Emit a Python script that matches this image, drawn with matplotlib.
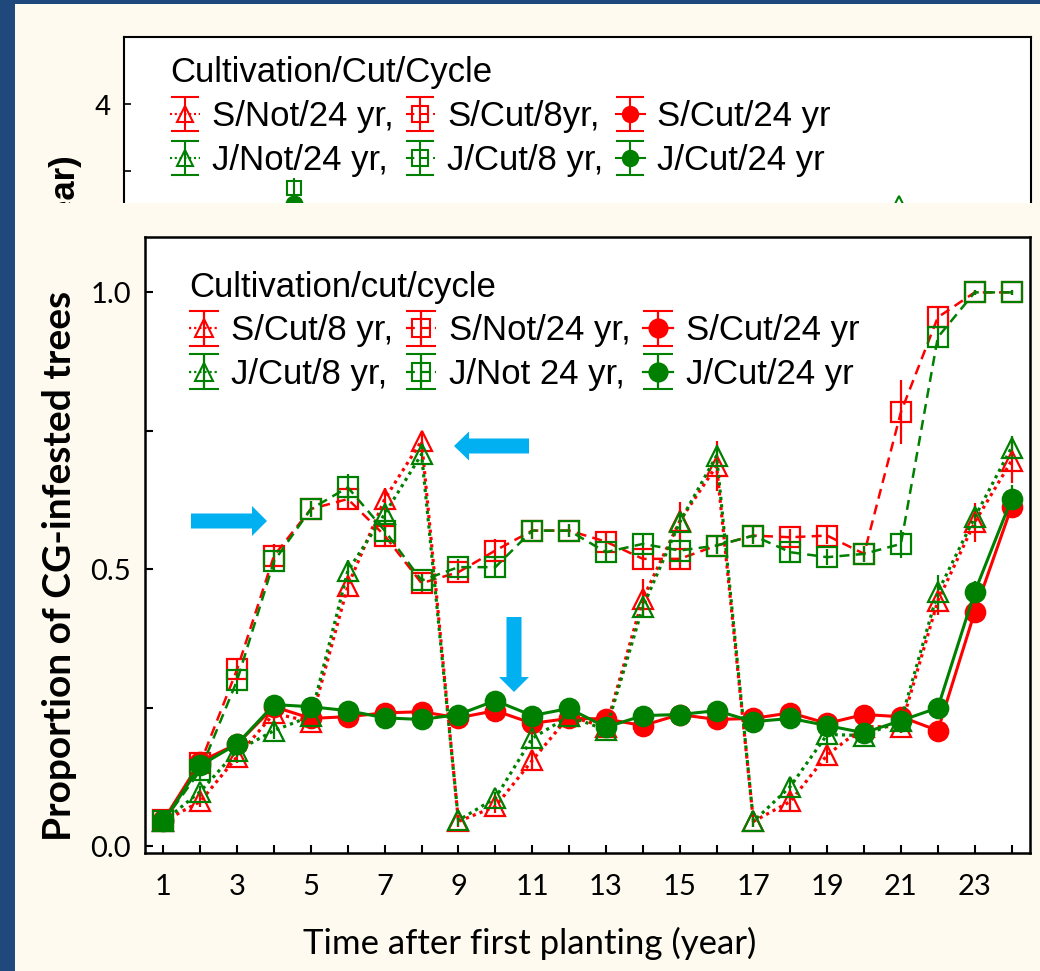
import numpy as np
import matplotlib.pyplot as plt
from matplotlib.patches import Rectangle, FancyArrow

W, H = 1040, 971

# ---- data ----
years = np.arange(1, 25)

s_cut8 = [0.045, 0.081, 0.162, 0.240, 0.225, 0.470, 0.627, 0.732, 0.045, 0.072, 0.155, 0.235,
          0.215, 0.447, 0.587, 0.687, 0.045, 0.081, 0.165, 0.216, 0.216, 0.443, 0.585, 0.696]
j_cut8 = [0.045, 0.099, 0.173, 0.209, 0.235, 0.497, 0.600, 0.708, 0.047, 0.087, 0.195, 0.235,
          0.210, 0.432, 0.585, 0.705, 0.045, 0.108, 0.202, 0.200, 0.227, 0.459, 0.594, 0.720]
s_not24 = [0.047, 0.150, 0.320, 0.525, 0.609, 0.627, 0.561, 0.475, 0.495, 0.534, 0.570, 0.570,
           0.550, 0.519, 0.519, 0.543, 0.561, 0.558, 0.561, 0.528, 0.784, 0.955, 1.000, 1.000]
j_not24 = [0.045, 0.137, 0.300, 0.515, 0.609, 0.648, 0.570, 0.480, 0.504, 0.504, 0.570, 0.570,
           0.531, 0.546, 0.534, 0.543, 0.561, 0.531, 0.522, 0.528, 0.546, 0.919, 1.000, 1.000]
s_cut24 = [0.047, 0.153, 0.185, 0.252, 0.231, 0.234, 0.241, 0.243, 0.232, 0.245, 0.222, 0.231,
           0.230, 0.218, 0.238, 0.229, 0.231, 0.241, 0.222, 0.238, 0.234, 0.209, 0.423, 0.613]
j_cut24 = [0.045, 0.146, 0.185, 0.256, 0.252, 0.245, 0.232, 0.229, 0.238, 0.263, 0.236, 0.249,
           0.215, 0.236, 0.238, 0.245, 0.225, 0.231, 0.218, 0.205, 0.227, 0.250, 0.459, 0.627]

s_cut8_err = [0.010, 0.010, 0.012, 0.015, 0.012, 0.020, 0.020, 0.015, 0.010, 0.012, 0.015, 0.012,
              0.010, 0.035, 0.035, 0.045, 0.010, 0.015, 0.015, 0.015, 0.012, 0.025, 0.035, 0.040]
j_cut8_err = [0.010, 0.010, 0.012, 0.015, 0.012, 0.020, 0.020, 0.015, 0.010, 0.012, 0.015, 0.012,
              0.010, 0.020, 0.020, 0.020, 0.010, 0.015, 0.015, 0.015, 0.012, 0.030, 0.020, 0.020]
s_not24_err = [0.010, 0.015, 0.020, 0.020, 0.015, 0.020, 0.020, 0.015, 0.015, 0.020, 0.015, 0.012,
               0.015, 0.020, 0.020, 0.015, 0.015, 0.015, 0.015, 0.015, 0.058, 0.020, 0.005, 0.005]
j_not24_err = [0.010, 0.015, 0.025, 0.020, 0.015, 0.025, 0.020, 0.015, 0.015, 0.020, 0.015, 0.012,
               0.015, 0.020, 0.020, 0.015, 0.015, 0.015, 0.015, 0.015, 0.025, 0.020, 0.005, 0.005]
s_cut24_err = [0.008, 0.010, 0.010, 0.010, 0.010, 0.010, 0.010, 0.010, 0.010, 0.010, 0.010, 0.010,
               0.010, 0.010, 0.010, 0.012, 0.010, 0.012, 0.010, 0.012, 0.010, 0.010, 0.020, 0.020]
j_cut24_err = [0.008, 0.010, 0.010, 0.010, 0.010, 0.010, 0.010, 0.010, 0.010, 0.012, 0.010, 0.010,
               0.010, 0.010, 0.010, 0.015, 0.010, 0.015, 0.010, 0.010, 0.010, 0.010, 0.020, 0.025]

main_labels = ['S/Cut/8 yr,', 'J/Cut/8 yr,', 'S/Not/24 yr,', 'J/Not 24 yr,', 'S/Cut/24 yr', 'J/Cut/24 yr']
ytick_vals = [0.0, 0.25, 0.5, 0.75, 1.0]
ytick_text = ['0.0', '', '0.5', '', '1.0']

# ---- what shows of the slide behind (mostly covered) ----
bg_labels = ['S/Not/24 yr,', 'J/Not/24 yr,', 'S/Cut/8yr,', 'J/Cut/8 yr,', 'S/Cut/24 yr', 'J/Cut/24 yr']
bg_jcut8_x, bg_jcut8, bg_jcut8_err = [5], [3.37], [0.08]
bg_jcut24_x, bg_jcut24 = [5], [3.25]
bg_jnot24_x, bg_jnot24 = [21], [3.25]

RED = '#FF0000'
GREEN = '#008000'
NAVY = '#1F497D'
CREAM = '#FEFAEF'
ARROW = '#00B0F0'
DASH = (0, (4, 2.5))
DOT = (0, (1, 1.3))

plt.rcParams['font.family'] = ['Lato', 'DejaVu Sans']


def fx(px):
    return px / W


def fy(py):
    return 1 - py / H


fig = plt.figure(figsize=(W / 100, H / 100), dpi=100, facecolor=NAVY)
fig.add_artist(Rectangle((fx(15), 0), 1 - fx(15), fy(4), transform=fig.transFigure,
                         facecolor=CREAM, edgecolor='none', zorder=0.1))

# ---------------- background chart (top slide) ----------------
bg = fig.add_axes([fx(124), fy(640), (1031 - 124) / W, (640 - 37) / H], zorder=0.5)
bg.set_facecolor('white')
bg.set_xlim(0.5, 24.5)
bg.set_ylim(0, 4.5)
for s in bg.spines.values():
    s.set_linewidth(1.5)
bg.set_yticks(np.arange(0, 4.5, 0.5))
bg.set_yticklabels([str(int(v)) if v == int(v) else '' for v in np.arange(0, 4.5, 0.5)],
                   family='Liberation Sans', fontsize=21)
bg.tick_params(direction='in', length=5, width=1.2, pad=10)
bg.set_xticks([])

bg.errorbar(bg_jcut8_x, bg_jcut8, yerr=bg_jcut8_err, color=GREEN, ls='none', marker='s', ms=10,
            mfc='none', mew=1.5, elinewidth=1.5)
bg.plot(bg_jcut24_x, bg_jcut24, color=GREEN, marker='o', ms=12, ls='none')
bg.plot(bg_jnot24_x, bg_jnot24, color=GREEN, marker='^', ms=11, mfc='none', mew=1.5, ls='none')

bg_styles = [(RED, DOT, '^', 'none'), (GREEN, DOT, '^', 'none'),
             (RED, DASH, 's', 'none'), (GREEN, DASH, 's', 'none'),
             (RED, '-', 'o', RED), (GREEN, '-', 'o', GREEN)]
bg_handles = []
for c, ls, m, fc in bg_styles:
    bg_handles.append(bg.errorbar([np.nan], [np.nan], yerr=[0.1], color=c, ls=ls, lw=1.5,
                                  marker=m, ms=11, mfc=fc, mec=c, mew=1.5, capsize=10))
bg.legend(bg_handles, bg_labels, ncol=3, loc='upper left', bbox_to_anchor=(fx(170), fy(56)),
          bbox_transform=fig.transFigure, frameon=False, borderpad=0, borderaxespad=0,
          prop={'family': 'Liberation Sans', 'size': 25}, title='Cultivation/Cut/Cycle',
          title_fontproperties={'family': 'Liberation Sans', 'size': 25}, alignment='left',
          handlelength=0.85, handletextpad=0.35, columnspacing=0.35, labelspacing=0.32)

fig.text(fx(64), fy(153), '(year)', rotation=90, ha='center', va='top',
         family='Liberation Sans', fontweight='bold', fontsize=25, zorder=0.6)

# cover: the lower slide
fig.add_artist(Rectangle((fx(15), 0), 1 - fx(15), fy(203), transform=fig.transFigure,
                         facecolor=CREAM, edgecolor='none', zorder=1))

# ---------------- main chart ----------------
ax = fig.add_axes([fx(145), fy(853), (1030 - 145) / W, (853 - 237) / H], zorder=2)
ax.set_facecolor('white')

series = [
    (s_not24, s_not24_err, RED, DASH, 's', 'none', 1.8),
    (s_cut8, s_cut8_err, RED, DOT, '^', 'none', 2.3),
    (s_cut24, s_cut24_err, RED, '-', 'o', RED, 2.2),
    (j_not24, j_not24_err, GREEN, DASH, 's', 'none', 1.8),
    (j_cut8, j_cut8_err, GREEN, DOT, '^', 'none', 2.3),
    (j_cut24, j_cut24_err, GREEN, '-', 'o', GREEN, 2.2),
]
for vals, err, c, ls, m, fc, lw in series:
    ax.errorbar(years, vals, yerr=err, color=c, ls=ls, lw=lw, marker=m,
                ms=14.5 if m == '^' else 14, mfc=fc, mec=c,
                mew=1.6, elinewidth=1.6, capsize=0)

ax.set_xlim(0.5, 24.5)
ax.set_ylim(-0.012, 1.10)
ax.set_xticks(years)
ax.set_xticklabels([str(y) if y % 2 else '' for y in years])
ax.set_yticks(ytick_vals)
ax.set_yticklabels(ytick_text)
ax.tick_params(direction='in', length=6, width=1.5, labelsize=21)
ax.tick_params(axis='x', pad=15)
ax.tick_params(axis='y', pad=10)
for s in ax.spines.values():
    s.set_linewidth(1.8)

main_styles = [(RED, DOT, '^', 'none'), (GREEN, DOT, '^', 'none'),
               (RED, DASH, 's', 'none'), (GREEN, DASH, 's', 'none'),
               (RED, '-', 'o', RED), (GREEN, '-', 'o', GREEN)]
handles = []
for c, ls, m, fc in main_styles:
    handles.append(ax.errorbar([np.nan], [np.nan], yerr=[0.1], color=c, ls=ls, lw=1.6,
                               marker=m, ms=13, mfc=fc, mec=c, mew=1.5, capsize=11))
ax.legend(handles, main_labels, ncol=3, loc='upper left', bbox_to_anchor=(fx(189), fy(271)),
          bbox_transform=fig.transFigure, frameon=False, borderpad=0, borderaxespad=0,
          prop={'family': 'Liberation Sans', 'size': 25}, title='Cultivation/cut/cycle',
          title_fontproperties={'family': 'Liberation Sans', 'size': 25}, alignment='left',
          handlelength=0.85, handletextpad=0.37, columnspacing=0.37, labelspacing=0.3)

fig.text(fx(530), fy(943), 'Time after first planting (year)', ha='center', va='center',
         fontsize=25, zorder=3)
fig.text(fx(60), fy(566), 'Proportion of CG-infested trees', rotation=90, ha='center',
         va='center', fontsize=28, fontweight='bold', zorder=3)

# ---------------- blue call-out arrows (pixel overlay) ----------------
ov = fig.add_axes([0, 0, 1, 1], zorder=3)
ov.set_xlim(0, W)
ov.set_ylim(H, 0)
ov.axis('off')
ov.add_patch(FancyArrow(191, 521, 76, 0, width=15, head_width=30, head_length=15,
                        length_includes_head=True, color=ARROW, lw=0))
ov.add_patch(FancyArrow(529, 446, -75, 0, width=15, head_width=29, head_length=15,
                        length_includes_head=True, color=ARROW, lw=0))
ov.add_patch(FancyArrow(514, 617, 0, 75, width=15, head_width=30, head_length=15,
                        length_includes_head=True, color=ARROW, lw=0))

fig.savefig('out.png', dpi=100, facecolor=NAVY)
